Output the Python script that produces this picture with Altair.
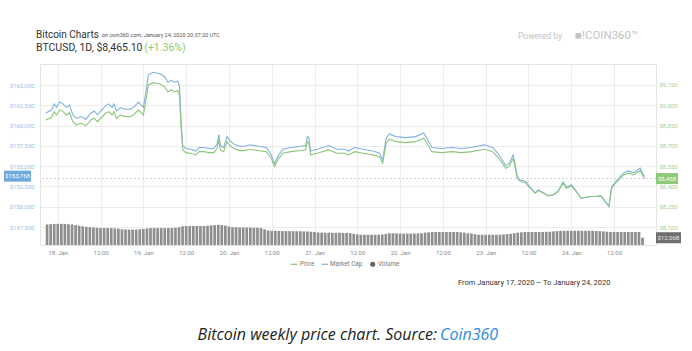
import altair as alt
import pandas as pd

# ---------------- data ----------------
times = [
    "2020-01-17T20:37", "2020-01-17T22:16", "2020-01-17T22:59", "2020-01-17T23:38",
    "2020-01-18T00:33", "2020-01-18T01:28", "2020-01-18T02:24", "2020-01-18T03:19",
    "2020-01-18T04:13", "2020-01-18T05:10", "2020-01-18T06:32", "2020-01-18T07:55",
    "2020-01-18T09:18", "2020-01-18T10:13", "2020-01-18T11:07", "2020-01-18T12:03",
    "2020-01-18T13:26", "2020-01-18T14:20", "2020-01-18T15:15", "2020-01-18T15:43",
    "2020-01-18T16:28", "2020-01-18T17:34", "2020-01-18T18:57", "2020-01-18T20:20",
    "2020-01-18T21:14", "2020-01-18T22:37", "2020-01-18T23:32", "2020-01-19T00:00",
    "2020-01-19T00:55", "2020-01-19T01:23", "2020-01-19T02:46", "2020-01-19T04:37",
    "2020-01-19T05:59", "2020-01-19T06:54", "2020-01-19T07:49", "2020-01-19T08:45",
    "2020-01-19T09:39", "2020-01-19T10:07", "2020-01-19T10:34", "2020-01-19T11:02",
    "2020-01-19T11:57", "2020-01-19T13:19", "2020-01-19T14:42", "2020-01-19T15:38",
    "2020-01-19T17:01", "2020-01-19T18:24", "2020-01-19T19:47", "2020-01-19T20:41",
    "2020-01-19T21:10", "2020-01-19T21:36", "2020-01-19T22:32", "2020-01-19T23:27",
    "2020-01-20T00:22", "2020-01-20T01:44", "2020-01-20T03:07", "2020-01-20T04:30",
    "2020-01-20T05:53", "2020-01-20T08:11", "2020-01-20T10:29", "2020-01-20T11:52",
    "2020-01-20T12:46", "2020-01-20T13:43", "2020-01-20T15:05", "2020-01-20T17:23",
    "2020-01-20T20:08", "2020-01-20T21:31", "2020-01-20T21:59", "2020-01-20T22:26",
    "2020-01-20T22:54", "2020-01-21T00:45", "2020-01-21T03:57", "2020-01-21T06:16",
    "2020-01-21T08:33", "2020-01-21T09:28", "2020-01-21T11:19", "2020-01-21T13:36",
    "2020-01-21T16:22", "2020-01-21T18:13", "2020-01-21T19:07", "2020-01-21T20:04",
    "2020-01-21T20:58", "2020-01-21T22:49", "2020-01-22T01:34", "2020-01-22T04:20",
    "2020-01-22T06:37", "2020-01-22T07:32", "2020-01-22T08:55", "2020-01-22T11:40",
    "2020-01-22T14:26", "2020-01-22T17:11", "2020-01-22T19:57", "2020-01-22T23:39",
    "2020-01-23T01:56", "2020-01-23T03:19", "2020-01-23T04:41", "2020-01-23T05:36",
    "2020-01-23T06:32", "2020-01-23T07:43", "2020-01-23T08:21", "2020-01-23T08:50",
    "2020-01-23T09:44", "2020-01-23T11:07", "2020-01-23T12:30", "2020-01-23T13:53",
    "2020-01-23T14:49", "2020-01-23T16:12", "2020-01-23T17:35", "2020-01-23T18:58",
    "2020-01-23T20:20", "2020-01-23T21:43", "2020-01-23T22:38", "2020-01-24T00:01",
    "2020-01-24T01:23", "2020-01-24T02:46", "2020-01-24T04:08", "2020-01-24T05:31",
    "2020-01-24T06:54", "2020-01-24T08:17", "2020-01-24T09:11", "2020-01-24T10:34",
    "2020-01-24T11:19", "2020-01-24T12:25", "2020-01-24T13:48", "2020-01-24T14:43",
    "2020-01-24T16:05", "2020-01-24T17:28", "2020-01-24T18:51", "2020-01-24T19:19",
    "2020-01-24T20:14", "2020-01-24T20:37",
]

price = [
    8891, 8911, 8953, 8928, 8965, 8953, 8928, 8945, 8879, 8854, 8867, 8849,
    8891, 8904, 8879, 8904, 8941, 8953, 8928, 8953, 8904, 8928, 8916, 8916,
    8928, 8965, 8941, 8928, 9064, 9150, 9167, 9157, 9137, 9100, 9113, 9100,
    9108, 9076, 8842, 8670, 8650, 8645, 8633, 8657, 8657, 8650, 8650, 8682,
    8744, 8670, 8657, 8731, 8699, 8675, 8665, 8665, 8675, 8665, 8657, 8608,
    8546, 8596, 8645, 8657, 8665, 8670, 8731, 8719, 8633, 8645, 8670, 8645,
    8645, 8633, 8657, 8645, 8633, 8620, 8571, 8719, 8749, 8731, 8724, 8731,
    8756, 8719, 8657, 8650, 8657, 8650, 8657, 8675, 8657, 8620, 8571, 8534,
    8546, 8608, 8534, 8461, 8436, 8428, 8387, 8350, 8369, 8350, 8330, 8337,
    8362, 8424, 8387, 8404, 8362, 8313, 8320, 8325, 8325, 8330, 8300, 8256,
    8387, 8424, 8461, 8485, 8498, 8485, 8509, 8517, 8472, 8458,
]

market_cap = [
    161550, 161913, 162676, 162222, 162894, 162676, 162222, 162531, 161331, 160877, 161113, 160786,
    161550, 161786, 161331, 161786, 162458, 162676, 162222, 162676, 161786, 162222, 162004, 162004,
    162222, 162894, 162458, 162222, 164693, 166256, 166564, 166383, 166019, 165347, 165583, 165347,
    165492, 164911, 160659, 157534, 157171, 157080, 156862, 157298, 157298, 157171, 157171, 157752,
    158878, 157534, 157298, 158642, 158061, 157625, 157443, 157443, 157625, 157443, 157298, 156407,
    155281, 156189, 157080, 157298, 157443, 157534, 158642, 158424, 156862, 157080, 157534, 157080,
    157080, 156862, 157298, 157080, 156862, 156625, 155735, 158424, 158969, 158642, 158515, 158642,
    159097, 158424, 157298, 157171, 157298, 157171, 157298, 157625, 157298, 156625, 155735, 155063,
    155281, 156407, 155063, 153736, 153282, 153137, 152392, 151720, 152065, 151720, 151356, 151483,
    151938, 153064, 152392, 152701, 151938, 151047, 151174, 151265, 151265, 151356, 150811, 150012,
    152392, 153064, 153736, 154172, 154409, 154172, 154609, 154754, 153936, 153768,
]

# hourly volume (billions USD), first bar 17 Jan 21:00 UTC
volume_start = "2020-01-17 21:00"
volume = [
    34, 34.5, 35, 35, 35, 35, 34.5, 34, 33,
    32, 31, 30, 29.5, 29, 28.5, 28,
    28, 28, 28, 27.5, 27,
    26, 25.7, 25.5, 25.5, 25.7, 26, 26.5,
    27.5, 28, 28, 28, 28, 28, 28, 28, 28.5, 29.5,
    31, 31.5, 31.5, 31.5, 31.5, 31.5, 31.5, 32, 32.5, 33,
    33.5, 33, 32, 30.5,
    29.5, 29.5, 29, 29, 29, 29, 28.5, 28.5, 28, 26,
    24, 23.5, 23.5, 23.2, 23, 23, 23, 23, 22.8, 22.8, 22.5, 22.5, 22, 21.5,
    20.8, 20.5, 20.3, 20.3, 20.3, 20.3, 20.3, 20, 20, 19.5, 18.5,
    17.5, 17, 17, 17, 17, 17, 17, 17.5,
    18.5, 19.5, 19.5, 19, 19, 19, 19, 19, 19, 19.2, 19.5,
    20.5, 21, 21.5, 21.5, 21.5, 21.5, 21.5, 21.5, 21.5, 21.5, 21, 20.5,
    19.5, 19, 18,
    17, 17, 17, 17, 17, 17, 17, 17.5, 18, 18.5, 19.5,
    20.5, 21, 21.5, 21.5, 21.5, 21.5, 21.5, 21.5, 21.8, 22, 22.5, 23,
    23.5, 23.6, 23.6, 23.6, 23.6, 23.6, 23.6, 23.6, 23.6, 23.5, 23.3, 23, 22.5,
    22, 21.5, 21.5, 21.5, 21.5, 21.5, 21.5, 21.5, 21.5, 21.5,
    12.06,
]

x_tick_times = pd.date_range("2020-01-18 00:00", "2020-01-24 12:00", freq="12h")
x_domain_times = ["2020-01-17 20:25", "2020-01-24 22:22"]

mcap_ticks = [147500, 150000, 152500, 155000, 157500, 160000, 162500, 165000]
price_ticks = [8100, 8250, 8400, 8550, 8700, 8850, 9000, 9150]

last_price_label = "$8,458"
last_mcap_label = "$153,768"
last_volume_label = "$12.06B"


def to_ms(ts):
    return int(pd.Timestamp(ts, tz="UTC").value // 10**6)


# ---------------- frames ----------------
line_df = pd.DataFrame({
    "t": [to_ms(s) for s in times],
    "price": price,
    "mcap": market_cap,
})
vol_times = pd.date_range(volume_start, periods=len(volume), freq="h")
vol_df = pd.DataFrame({"t": [to_ms(s) for s in vol_times], "v": volume})
last_df = pd.DataFrame({
    "price": [price[-1]], "mcap": [market_cap[-1]], "v": [volume[-1]],
    "pl": [last_price_label], "ml": [last_mcap_label], "vl": [last_volume_label],
})
one = pd.DataFrame({"a": [0]})

W, H = 616, 181
FONT = "Roboto"
GREEN = "#8cc67c"
BLUE = "#80b2de"
GRID = "#ececec"

x_scale = alt.Scale(type="utc", domain=[to_ms(s) for s in x_domain_times], nice=False)
x_axis = alt.Axis(
    values=[to_ms(s) for s in x_tick_times],
    labelExpr="utcFormat(datum.value, '%H') == '00' ? utcFormat(datum.value, '%d. %b') : '12:00'",
    grid=True, gridColor=GRID, domain=False, ticks=False,
    labelFontSize=6, labelColor="#8a8a8a", labelFont=FONT, labelPadding=4, title=None,
)
x_enc = alt.X("t:T", scale=x_scale, axis=x_axis)

price_scale = alt.Scale(domain=[7967, 9305], nice=False, zero=False)
mcap_scale = alt.Scale(domain=[145282, 167588], nice=False, zero=False)
vol_scale = alt.Scale(domain=[0, 300], nice=False)

# ---------------- layers ----------------
vol_layer = alt.Chart(vol_df).mark_bar(color="#8e8e8e", size=2.7).encode(
    x=x_enc,
    y=alt.Y("v:Q", scale=vol_scale, axis=None),
)

mcap_layer = alt.Chart(line_df).mark_line(color=BLUE, strokeWidth=1.1).encode(
    x=x_enc,
    y=alt.Y("mcap:Q", scale=mcap_scale, axis=alt.Axis(
        orient="left", values=mcap_ticks, format="$,.0f", grid=True, gridColor=GRID,
        domain=False, ticks=False, labelFontSize=6, labelColor="#9dbfe0",
        labelFont=FONT, labelPadding=6, title=None)),
)

price_layer = alt.Chart(line_df).mark_line(color=GREEN, strokeWidth=1.1).encode(
    x=x_enc,
    y=alt.Y("price:Q", scale=price_scale, axis=alt.Axis(
        orient="right", values=price_ticks, format="$,.0f", grid=False,
        domain=False, ticks=False, labelFontSize=6, labelColor="#a6cf92",
        labelFont=FONT, labelPadding=3, title=None)),
)

dash_layer = alt.Chart(last_df).mark_rule(color="#c9c9c9", strokeDash=[2, 2], strokeWidth=0.8).encode(
    y=alt.Y("price:Q", scale=price_scale, axis=None),
)


def box_path(w, h):
    r = h / w
    return f"M-1,{-r:.3f}L1,{-r:.3f}L1,{r:.3f}L-1,{r:.3f}Z"


mcap_box = alt.Chart(last_df).mark_point(
    shape=box_path(27, 11), size=27 * 27, filled=True, opacity=1, color="#6ea8dd"
).encode(x=alt.value(-22.5), y=alt.Y("mcap:Q", scale=mcap_scale, axis=None))
mcap_box_t = alt.Chart(last_df).mark_text(
    color="white", fontSize=6, font=FONT, align="center", baseline="middle"
).encode(x=alt.value(-22.5), y=alt.Y("mcap:Q", scale=mcap_scale, axis=None), text="ml:N")

price_box = alt.Chart(last_df).mark_point(
    shape=box_path(22, 11), size=22 * 22, filled=True, opacity=1, color="#8cc97a"
).encode(x=alt.value(627), y=alt.Y("price:Q", scale=price_scale, axis=None))
price_box_t = alt.Chart(last_df).mark_text(
    color="white", fontSize=6, font=FONT, align="center", baseline="middle"
).encode(x=alt.value(627), y=alt.Y("price:Q", scale=price_scale, axis=None), text="pl:N")

vol_box = alt.Chart(last_df).mark_point(
    shape=box_path(25, 11), size=25 * 25, filled=True, opacity=1, color="#6e6e6e"
).encode(x=alt.value(628.5), y=alt.Y("v:Q", scale=vol_scale, axis=None))
vol_box_t = alt.Chart(last_df).mark_text(
    color="#e8e8e8", fontSize=6, font=FONT, align="center", baseline="middle"
).encode(x=alt.value(628.5), y=alt.Y("v:Q", scale=vol_scale, axis=None), text="vl:N")


def txt(s, x, y, size, color, align="left", font=FONT, style="normal", weight="normal"):
    return alt.Chart(one).mark_text(
        text=s, fontSize=size, color=color, align=align, baseline="middle",
        font=font, fontStyle=style, fontWeight=weight,
    ).encode(x=alt.value(x), y=alt.value(y))


def seg(x1, x2, y, color):
    return alt.Chart(one).mark_rule(color=color, strokeWidth=1.2).encode(
        x=alt.value(x1), x2=alt.value(x2), y=alt.value(y))


legend_dot = alt.Chart(one).mark_point(filled=True, opacity=1, color="#666666", size=26).encode(
    x=alt.value(332.7), y=alt.value(200.3))

annotations = [
    txt("Bitcoin Charts", -4, -29.5, 10, "#333333"),
    txt("on coin360.com, January 24, 2020 20:37:20 UTC", 61.7, -28.6, 5.5, "#555555"),
    txt("BTCUSD, 1D, $8,465.10", -4, -16.5, 10.5, "#333333"),
    txt("(+1.36%)", 104.3, -16.5, 10.5, "#8cc97a"),
    txt("Powered by", 478, -28, 8.5, "#c4c4c4"),
    txt("■!COIN360™", 535, -28, 11.5, "#c4c4c4"),
    seg(250.7, 257.3, 200.3, GREEN),
    txt("Price", 260, 200.3, 6.3, "#777777"),
    seg(281.7, 288.3, 200.3, BLUE),
    txt("Market Cap", 290, 200.3, 6.3, "#777777"),
    legend_dot,
    txt("Volume", 338, 200.3, 6.3, "#777777"),
    txt("From January 17, 2020 – To January 24, 2020", 418, 219, 7.5, "#333333"),
    txt("Bitcoin weekly price chart. Source:", 397, 271, 16, "#222222",
        align="right", font="Open Sans", style="italic"),
    txt("Coin360", 400, 271, 16, "#2b8ae6", font="Open Sans", style="italic"),
]

chart = alt.layer(
    vol_layer, mcap_layer, price_layer, dash_layer,
    mcap_box, mcap_box_t, price_box, price_box_t, vol_box, vol_box_t,
    *annotations,
).resolve_scale(y="independent").properties(
    width=W, height=H,
    autosize=alt.AutoSizeParams(type="none"),
    padding={"left": 40, "top": 64, "right": 36, "bottom": 106},
    background="white",
).configure_view(stroke="#e4e4e4")

chart.save("out.html", embed_options={"renderer": "svg", "actions": False})
